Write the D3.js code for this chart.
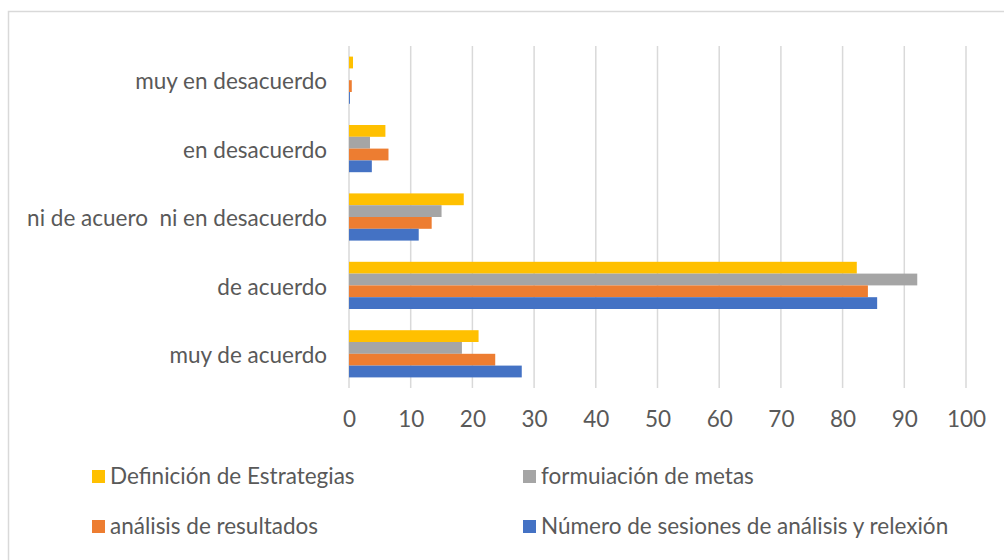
<!DOCTYPE html>
<html>
<head>
<meta charset="utf-8">
<script src="https://cdn.jsdelivr.net/npm/d3@7"></script>
<style>
  body { margin: 0; background: #fff; }
  text { font-family: Lato, "Open Sans", sans-serif; fill: #595959; white-space: pre; }
</style>
</head>
<body>
<script>
let width = 1004
let height = 560
let margin = { top: 46, right: 38, bottom: 172, left: 349 }

// categories, top to bottom
let categories = ["muy en desacuerdo", "en desacuerdo", "ni de acuero  ni en desacuerdo", "de acuerdo", "muy de acuerdo"]
let seriesNames = ["Definición de Estrategias", "formuiación de metas", "análisis de resultados", "Número de sesiones de análisis y relexión"]
let seriesColors = ["#ffc000", "#a5a5a5", "#ed7d31", "#4472c4"]

// values per series, same order as categories
let definicion = [0.65, 5.9, 18.6, 82.3, 21.0]
let formulacion = [0, 3.4, 15.0, 92.1, 18.3]
let analisis = [0.45, 6.4, 13.4, 84.1, 23.7]
let sesiones = [0.15, 3.7, 11.3, 85.6, 28.0]
let xTicks = [0, 10, 20, 30, 40, 50, 60, 70, 80, 90, 100]

let allSeries = [definicion, formulacion, analisis, sesiones]

let svg = d3.select("body").append("svg")
    .attr("width", width)
    .attr("height", height)

// chart frame
svg.append("rect")
    .attr("x", 8.5).attr("y", 11.5)
    .attr("width", width + 20).attr("height", height + 20)
    .attr("fill", "none")
    .attr("stroke", "#d9d9d9")
    .attr("stroke-width", 1.5)

let plotW = width - margin.left - margin.right
let plotH = height - margin.top - margin.bottom

let x = d3.scaleLinear().domain([0, 100]).range([margin.left, margin.left + plotW])
let y = d3.scaleBand().domain(categories).range([margin.top, margin.top + plotH]).paddingInner(0.31).paddingOuter(0.155)
let ySub = d3.scaleBand().domain(d3.range(seriesNames.length)).range([0, y.bandwidth()])

// gridlines
svg.append("g").selectAll("line").data(xTicks).enter().append("line")
    .attr("x1", d => x(d)).attr("x2", d => x(d))
    .attr("y1", margin.top).attr("y2", margin.top + plotH)
    .attr("stroke", "#d9d9d9")
    .attr("stroke-width", 1.5)

// bars
let rows = []
allSeries.forEach((vals, s) => {
    vals.forEach((v, c) => rows.push({ cat: categories[c], s: s, v: v }))
})
svg.append("g").selectAll("rect").data(rows).enter().append("rect")
    .attr("x", x(0))
    .attr("y", d => y(d.cat) + ySub(d.s))
    .attr("width", d => x(d.v) - x(0))
    .attr("height", ySub.bandwidth())
    .attr("fill", d => seriesColors[d.s])

// x axis labels
let xAxis = d3.axisBottom(x).tickValues(xTicks).tickSize(0).tickPadding(0)
let gx = svg.append("g")
    .attr("transform", "translate(0," + (margin.top + plotH) + ")")
    .call(xAxis)
gx.select(".domain").remove()
gx.selectAll("text")
    .attr("y", 0).attr("dy", "39px")
    .style("font-size", "22.5px")
    .style("fill", "#595959")
    .attr("font-family", "Lato, sans-serif")

// category labels
let yAxis = d3.axisLeft(y).tickSize(0).tickPadding(0)
let gy = svg.append("g")
    .attr("transform", "translate(" + (margin.left - 22) + ",2)")
    .call(yAxis)
gy.select(".domain").remove()
gy.selectAll("text")
    .style("font-size", "22.5px")
    .style("fill", "#595959")
    .style("white-space", "pre")
    .attr("font-family", "Lato, sans-serif")

// legend, two columns
let legendPos = [[92, 476], [523, 476], [92, 526], [523, 526]]
let legend = svg.append("g").selectAll("g").data(seriesNames).enter().append("g")
    .attr("transform", (d, i) => "translate(" + legendPos[i][0] + "," + legendPos[i][1] + ")")
legend.append("rect")
    .attr("x", 0).attr("y", -6)
    .attr("width", 13).attr("height", 13)
    .attr("fill", (d, i) => seriesColors[i])
legend.append("text")
    .attr("x", 18).attr("y", 0).attr("dy", "0.35em")
    .style("font-size", "22.5px")
    .text(d => d)
</script>
</body>
</html>
